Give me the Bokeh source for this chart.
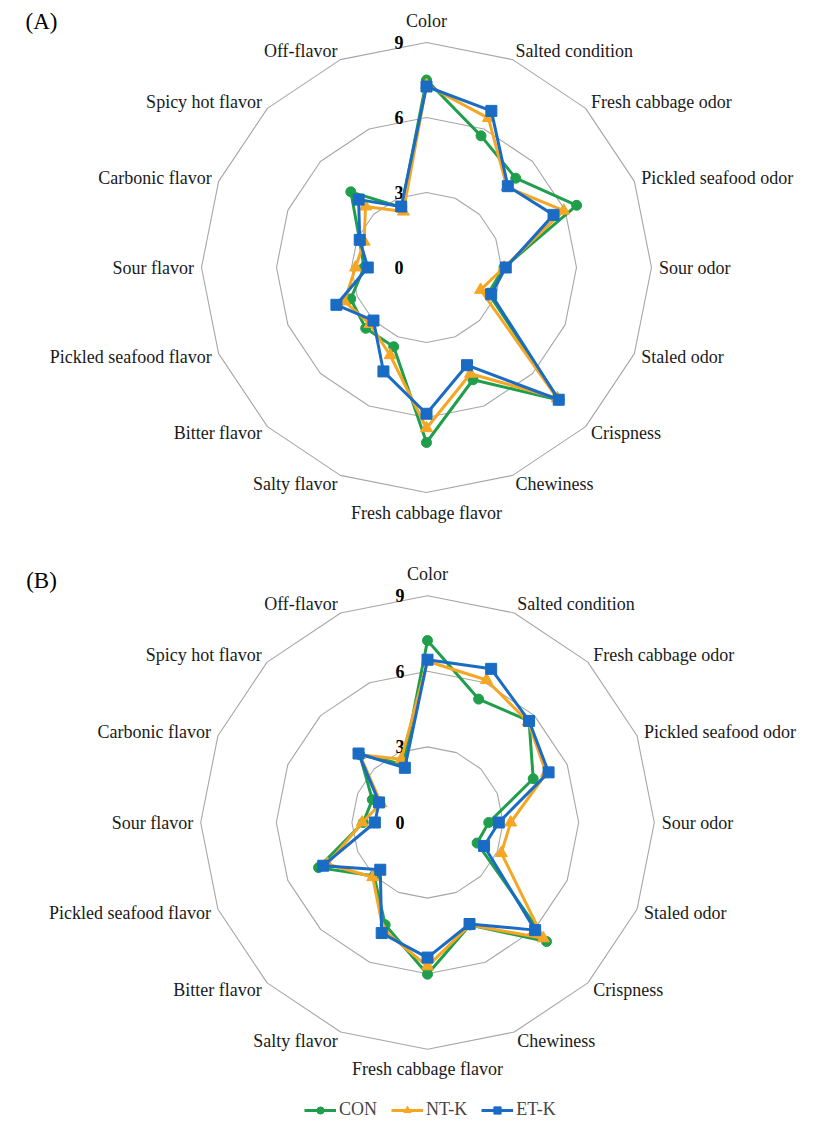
import math
from bokeh.plotting import figure
from bokeh.models import Range1d, Legend, LegendItem, ColumnDataSource
from bokeh.core.properties import value
from bokeh.embed import file_html
from bokeh.resources import INLINE

categories = ["Color", "Salted condition", "Fresh cabbage odor", "Pickled seafood odor",
              "Sour odor", "Staled odor", "Crispness", "Chewiness", "Fresh cabbage flavor",
              "Salty flavor", "Bitter flavor", "Pickled seafood flavor", "Sour flavor",
              "Carbonic flavor", "Spicy hot flavor", "Off-flavor"]

series_names = ["CON", "NT-K", "ET-K"]

a_con = [7.5, 5.7, 5.05, 6.5, 3.1, 2.68, 7.5, 4.86, 7.0, 3.43, 3.44, 3.28, 2.5, 2.9, 4.28, 2.6]
a_ntk = [7.3, 6.47, 4.55, 5.94, 3.1, 2.34, 7.4, 4.6, 6.43, 3.8, 3.2, 3.55, 2.84, 2.7, 3.45, 2.42]
a_etk = [7.24, 6.78, 4.6, 5.5, 3.17, 2.8, 7.48, 4.23, 5.85, 4.5, 3.0, 3.9, 2.35, 2.89, 3.84, 2.64]

b_con = [7.22, 5.3, 5.7, 4.54, 2.43, 2.13, 6.68, 4.4, 6.02, 4.39, 3.0, 4.68, 2.55, 2.37, 3.8, 2.5]
b_ntk = [6.4, 6.12, 5.65, 5.1, 3.3, 3.17, 6.5, 4.4, 5.71, 4.6, 3.07, 4.3, 2.59, 2.0, 3.8, 2.72]
b_etk = [6.46, 6.6, 5.7, 5.2, 2.83, 2.43, 6.04, 4.36, 5.36, 4.75, 2.65, 4.48, 2.09, 2.08, 3.87, 2.35]

tick_values = [0, 3, 6, 9]
tick_labels = ["0", "3", "6", "9"]
panel_labels = ["(A)", "(B)"]

colors = ["#1f9e4c", "#f5a623", "#1a6bc4"]
markers = ["circle", "triangle", "square"]
msizes = [10, 12, 11]

SERIF = "Liberation Serif"

p = figure(width=811, height=1120, output_backend="svg", toolbar_location=None,
           x_range=Range1d(0, 811), y_range=Range1d(1120, 0), min_border=0)
p.axis.visible = False
p.grid.visible = False
p.outline_line_color = None
p.background_fill_color = "white"

n = len(categories)
angles = [math.pi / 2 - 2 * math.pi * i / n for i in range(n)]


def to_xy(vals, cx, cy, s):
    xs = [cx + v * s * math.cos(a) for v, a in zip(vals, angles)]
    ys = [cy - v * s * math.sin(a) for v, a in zip(vals, angles)]
    return xs, ys


charts = [
    dict(cx=426, cy=267, s=25.0, data=[a_con, a_ntk, a_etk], panel=(41, 21)),
    dict(cx=427, cy=822, s=25.2, data=[b_con, b_ntk, b_etk], panel=(41, 580)),
]

legend_renderers = None
for ci, ch in enumerate(charts):
    cx, cy, s = ch["cx"], ch["cy"], ch["s"]
    # grid rings
    for tv in tick_values[1:]:
        xs, ys = to_xy([tv] * n, cx, cy, s)
        p.line(xs + [xs[0]], ys + [ys[0]], line_color="#a6a6a6", line_width=1.1)
    # tick labels
    p.text(x=[cx - 23] * len(tick_values), y=[cy - tv * s for tv in tick_values],
           text=tick_labels, text_align="right", text_baseline="middle",
           text_font=value(SERIF), text_font_style="bold", text_font_size="18px",
           text_color="black")
    # category labels
    lx, ly, la, lb = [], [], [], []
    r_lab = 9.3
    for i, a in enumerate(angles):
        c, sn = math.cos(a), math.sin(a)
        if abs(c) < 1e-6:
            if sn > 0:
                lx.append(cx); ly.append(cy - 9.45 * s); la.append("center"); lb.append("bottom")
            else:
                lx.append(cx); ly.append(cy + 9.4 * s); la.append("center"); lb.append("top")
        else:
            lx.append(cx + r_lab * s * c)
            ly.append(cy - r_lab * s * sn - 2 * sn)
            la.append("left" if c > 0 else "right")
            lb.append("middle")
    src = ColumnDataSource(dict(x=lx, y=ly, t=categories, a=la, b=lb))
    p.text(x="x", y="y", text="t", text_align="a", text_baseline="b", source=src,
           text_font=value(SERIF), text_font_size="18px", text_color="#1a1a1a")
    # panel label
    p.text(x=[ch["panel"][0]], y=[ch["panel"][1]], text=[panel_labels[ci]],
           text_align="center", text_baseline="middle", text_font=value(SERIF),
           text_font_size="23px", text_color="black")
    # series
    rends = []
    for k, vals in enumerate(ch["data"]):
        xs, ys = to_xy(vals, cx, cy, s)
        lr = p.line(xs + [xs[0]], ys + [ys[0]], line_color=colors[k], line_width=3)
        sr = p.scatter(xs, ys, marker=markers[k], size=msizes[k], fill_color=colors[k],
                       line_color=colors[k])
        rends.append([lr, sr])
    if legend_renderers is None:
        legend_renderers = rends

items = [LegendItem(label=series_names[k], renderers=legend_renderers[k]) for k in range(3)]
legend = Legend(items=items, orientation="horizontal", location=(304, 0),
                label_text_font=SERIF, label_text_font_size="18px",
                glyph_width=32, glyph_height=18, spacing=14, label_standoff=3,
                border_line_color=None, background_fill_alpha=0, padding=2, margin=0)
p.add_layout(legend, "center")

open("out.html", "w").write(file_html(p, INLINE))
